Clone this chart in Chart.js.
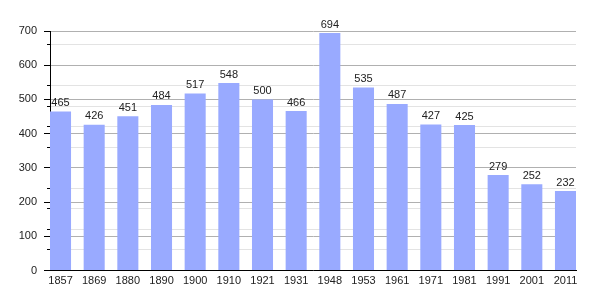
<!DOCTYPE html>
<html>
<head>
<meta charset="utf-8">
<script src="https://cdn.jsdelivr.net/npm/chart.js@4/dist/chart.umd.min.js"></script>
<style>
  html, body { margin: 0; padding: 0; background: #fff; }
  #wrap { width: 605px; height: 300px; }
</style>
</head>
<body>
<div id="wrap"><canvas id="myChart" width="605" height="300"></canvas></div>
<script>
// population by census year
const years = ['1857', '1869', '1880', '1890', '1900', '1910', '1921', '1931',
  '1948', '1953', '1961', '1971', '1981', '1991', '2001', '2011'];
const population = [465, 426, 451, 484, 517, 548, 500, 466,
  694, 535, 487, 427, 425, 279, 252, 232];
const yMax = 700;

const FONT = { family: '"Liberation Sans", Arial, sans-serif', size: 11 };

// value labels above each bar
const barLabels = {
  id: 'barLabels',
  afterDatasetsDraw(chart) {
    const ctx = chart.ctx;
    const meta = chart.getDatasetMeta(0);
    ctx.save();
    ctx.font = FONT.size + 'px ' + FONT.family;
    ctx.fillStyle = '#222';
    ctx.textAlign = 'center';
    ctx.textBaseline = 'bottom';
    meta.data.forEach((bar, i) => {
      ctx.fillText(population[i], bar.x, bar.y - 3);
    });
    ctx.restore();
  }
};

const ctx = document.getElementById('myChart').getContext('2d');
new Chart(ctx, {
  type: 'bar',
  data: {
    datasets: [{
      data: population.map((v, i) => ({ x: i, y: v })),
      backgroundColor: '#99aaff',
      borderWidth: 0,
      categoryPercentage: 1,
      barPercentage: 0.625,
      yAxisID: 'y'
    }]
  },
  options: {
    responsive: false,
    animation: false,
    events: [],
    layout: { padding: { left: 0, right: 29, top: 31, bottom: 0 } },
    plugins: { legend: { display: false }, tooltip: { enabled: false } },
    scales: {
      x: {
        type: 'linear',
        offset: false,
        min: -0.3125,
        max: 15.3125,
        afterBuildTicks: s => { s.ticks = years.map((_, i) => ({ value: i })); },
        afterFit: s => {
          s.height = 29.5;
          s.paddingLeft = 0;
          s.paddingRight = 0;
        },
        grid: { display: false, drawTicks: false, offset: false },
        border: { display: true, color: '#000', width: 1 },
        ticks: {
          autoSkip: false,
          maxRotation: 0,
          padding: 4,
          color: '#222',
          font: FONT,
          callback: (v) => years[v]
        }
      },
      yMinor: {
        position: 'left',
        min: 0,
        max: yMax,
        afterFit: s => { s.width = 0; },
        grid: {
          color: c => (c.tick.value % 100 === 0 ? 'rgba(0,0,0,0)' : '#e3e3e3'),
          tickColor: '#000',
          tickLength: 3,
          lineWidth: 1
        },
        border: { display: false },
        ticks: { stepSize: 20, display: true, callback: () => '' }
      },
      y: {
        position: 'left',
        min: 0,
        max: yMax,
        afterFit: s => { s.width = 50; },
        grid: { color: '#b0b0b0', tickColor: '#000', tickLength: 6 },
        border: { display: true, color: '#000', width: 1 },
        ticks: { stepSize: 100, padding: 7, color: '#222', font: FONT }
      }
    }
  },
  plugins: [barLabels]
});
</script>
</body>
</html>
